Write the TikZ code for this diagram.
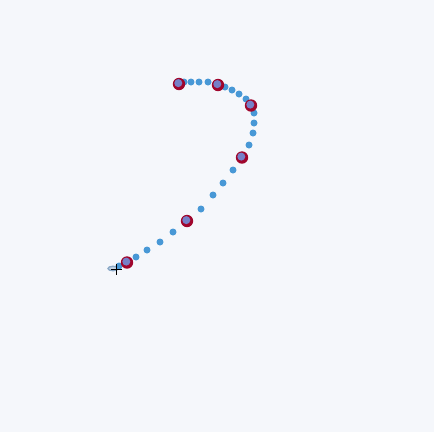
\documentclass[tikz,border=0pt]{standalone}
\usetikzlibrary{calc}
\definecolor{bg}{RGB}{245,247,251}
\definecolor{dotblue}{RGB}{72,152,214}
\definecolor{ptred}{RGB}{160,6,45}
\definecolor{ptin}{RGB}{118,128,200}
\definecolor{startc}{RGB}{140,170,200}
\tikzset{
  pathdot/.style={fill=dotblue},
  ctrlout/.style={fill=ptred},
  ctrlin/.style={fill=ptin},
}
\begin{document}
\begin{tikzpicture}[x=1pt,y=-1pt]
\fill[bg] (0,0) rectangle (434,432);
\useasboundingbox (0,0) rectangle (434,432);
% start marker
\draw[startc, line width=1.4pt, fill=startc!50] (113,268.5) ellipse [x radius=5, y radius=2.2];
% dots along the path
\foreach \x/\y in {119/266,136/257,147/250,160/242,173/232,201/209,213/195,223/183,233/170,249/145,253/133,254/123,254/113,246/99,239/94,232/90,225/87,208/82,199/82,191/82,184/82}
  \fill[pathdot] (\x,\y) circle[radius=3.5];
% control points
\foreach \x/\y in {127/262.5,187/221,242/157.5,251/105.5,218/85,179/84} {
  \fill[ctrlout] (\x,\y) circle[radius=6.2];
  \fill[ctrlin] (\x-0.7,\y-0.9) circle[radius=4];
}
% cursor
\coordinate (cur) at (116.5,269.5);
\draw[black, line width=0.9pt] ($(cur)+(-5.5,0)$) -- ($(cur)+(5.5,0)$);
\draw[black, line width=0.9pt] ($(cur)+(0,-5.5)$) -- ($(cur)+(0,5.5)$);
\end{tikzpicture}
\end{document}
